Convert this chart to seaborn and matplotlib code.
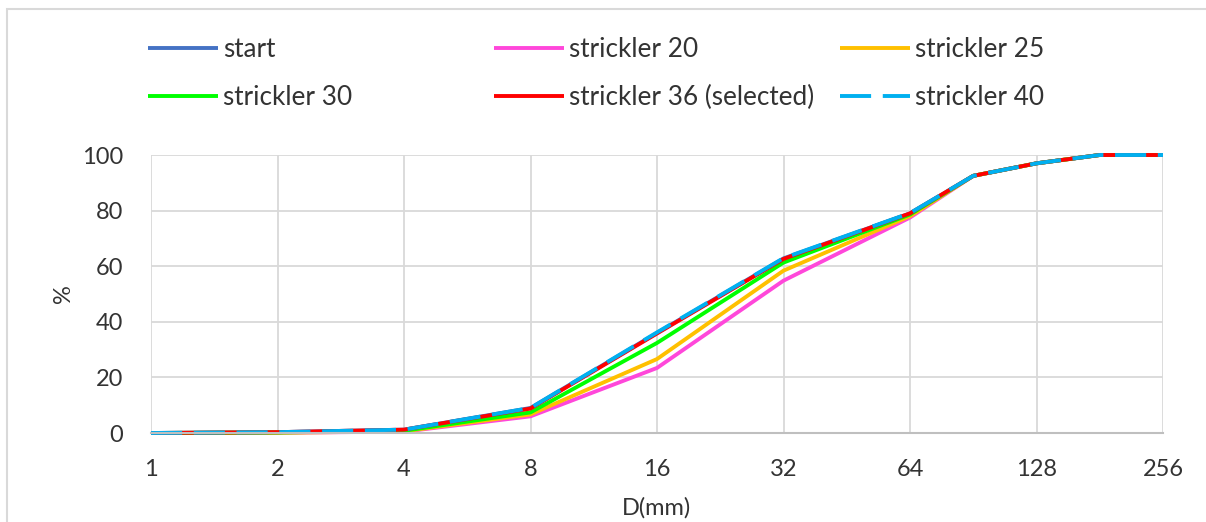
import numpy as np
import pandas as pd
import matplotlib
matplotlib.use("Agg")
import matplotlib.pyplot as plt
import seaborn as sns
from matplotlib.patches import Rectangle

# grain size (mm) and cumulative passing (%)
d_mm = [1, 2, 4, 8, 16, 32, 64, 90.5, 128, 181, 256]
start = [0, 0.3, 1.2, 9.0, 36.0, 62.8, 79.0, 92.5, 97.0, 100, 100]
strickler_20 = [0, 0.1, 0.5, 6.0, 23.4, 54.8, 77.5, 92.5, 97.0, 100, 100]
strickler_25 = [0, 0.1, 0.6, 6.7, 26.6, 58.4, 78.0, 92.5, 97.0, 100, 100]
strickler_30 = [0, 0.2, 0.8, 7.4, 32.4, 61.3, 78.6, 92.5, 97.0, 100, 100]
strickler_36 = [0, 0.3, 1.2, 8.8, 35.8, 62.6, 79.0, 92.5, 97.0, 100, 100]
strickler_40 = [0, 0.3, 1.2, 9.0, 36.2, 62.9, 79.1, 92.5, 97.0, 100, 100]

labels = ["start", "strickler 20", "strickler 25", "strickler 30",
          "strickler 36 (selected)", "strickler 40"]
series = [start, strickler_20, strickler_25, strickler_30, strickler_36, strickler_40]
colors = ["#4472C4", "#FF47DA", "#FFC000", "#00FF00", "#FF0000", "#00B0F0"]
x_ticks = [1, 2, 4, 8, 16, 32, 64, 128, 256]

sns.set_style("white")
plt.rcParams["font.family"] = ["Lato", "DejaVu Sans"]
text_color = "#333333"
fs = 17
leg_fs = 18.8

fig = plt.figure(figsize=(12.06, 5.22), dpi=100)
ax = fig.add_axes([151 / 1206, 1 - 433 / 522, (1163 - 151) / 1206, (433 - 155) / 522])

for lab, vals, col in zip(labels, series, colors):
    ls = (0, (8, 3)) if lab == "strickler 40" else "-"
    sns.lineplot(x=d_mm, y=vals, ax=ax, color=col, label=lab, linewidth=2.8,
                 linestyle=ls, clip_on=False, solid_capstyle="butt")

ax.set_xscale("log", base=2)
ax.set_xlim(1, 256)
ax.set_ylim(0, 100)
ax.set_xticks(x_ticks)
ax.set_xticklabels([str(t) for t in x_ticks])
ax.xaxis.set_minor_locator(matplotlib.ticker.NullLocator())
ax.set_yticks(range(0, 101, 20))
ax.grid(True, color="#D9D9D9", linewidth=1.3)
ax.set_axisbelow(True)
for s in ["top", "right", "left"]:
    ax.spines[s].set_visible(False)
ax.spines["bottom"].set_color("#BFBFBF")
ax.spines["bottom"].set_linewidth(1.5)
ax.tick_params(axis="x", length=0, pad=19, labelsize=fs, labelcolor=text_color)
ax.tick_params(axis="y", length=0, pad=20, labelsize=fs, labelcolor=text_color)
ax.set_xlabel("D(mm)", fontsize=fs, color=text_color, labelpad=12)
ax.set_ylabel("%", fontsize=fs, color=text_color, labelpad=6)

leg = ax.get_legend()
if leg is not None:
    leg.remove()
handles, labs = ax.get_legend_handles_labels()
col_x = [148, 494, 840]
for i, cx in enumerate(col_x):
    h = [handles[i], handles[i + 3]]
    l = [labs[i], labs[i + 3]]
    fig.legend(h, l, loc="upper left", bbox_to_anchor=(cx / 1206, 1 - 37 / 522),
               frameon=False, borderpad=0, borderaxespad=0, fontsize=leg_fs,
               handlelength=2.68, handletextpad=0.2, labelspacing=0.88,
               labelcolor=text_color)

# chart area border
fig.add_artist(Rectangle((7 / 1206, -0.1), 1.1, 1.1 - 9 / 522, transform=fig.transFigure,
                         fill=False, edgecolor="#D9D9D9", linewidth=1.5))

fig.savefig("out.png", dpi=100)
